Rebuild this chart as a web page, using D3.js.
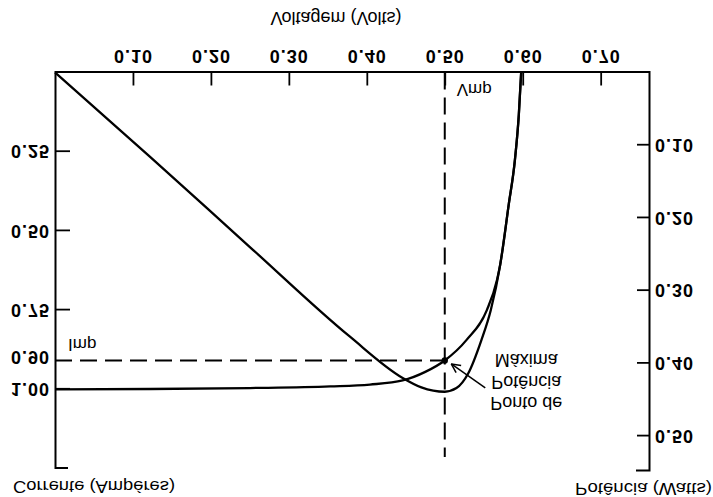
<!DOCTYPE html>
<html><head><meta charset="utf-8">
<script src="https://cdn.jsdelivr.net/npm/d3@7"></script>
<style>
html,body{margin:0;padding:0;background:#fff;}
svg{display:block;}
text{font-family:"Liberation Sans",Arial,Helvetica,sans-serif;fill:#000;}
</style>
</head><body>
<svg id="chart" width="713" height="497"></svg>
<script>
// ---- data ----
const voltageTicks = [0.1, 0.2, 0.3, 0.4, 0.5, 0.6, 0.7];
const voltageTickLabels = ["0.10", "0.20", "0.30", "0.40", "0.50", "0.60", "0.70"];
const currentTicks = [0.25, 0.5, 0.75, 0.9, 1.0];
const currentTickLabels = ["0.25", "0.50", "0.75", "0.90", "1.00"];
const powerTicks = [0.1, 0.2, 0.3, 0.4, 0.5];
const powerTickLabels = ["0.10", "0.20", "0.30", "0.40", "0.50"];

// I-V curve (Volts, Amperes)
const ivVoltage = [0, 0.122, 0.250, 0.353, 0.404, 0.446, 0.475, 0.500, 0.528, 0.554, 0.567, 0.571, 0.582, 0.590, 0.595, 0.598];
const ivCurrent = [1.000, 0.999, 0.996, 0.991, 0.985, 0.972, 0.945, 0.909, 0.844, 0.750, 0.655, 0.608, 0.418, 0.276, 0.134, 0.0];

// P-V curve (Volts, Watts)
const pvVoltage = [0, 0.122, 0.250, 0.378, 0.446, 0.470, 0.500, 0.515, 0.530, 0.547, 0.559, 0.571, 0.582, 0.590, 0.595, 0.598];
const pvPower = [0, 0.116, 0.240, 0.363, 0.420, 0.433, 0.439, 0.434, 0.414, 0.368, 0.327, 0.265, 0.182, 0.120, 0.058, 0.0];

const vmp = 0.50;      // Vmp
const imp = 0.909;     // Imp
const vmpLineEnd = 1.214; // current where the Vmp guide ends

const titleX = "Voltagem (Volts)";
const titleI = "Corrente (Ampéres)";
const titleP = "Potência (Watts)";
const noteLines = ["Ponto de", "Potência", "Máxima"];

// ---- drawing (drawn upright, then the whole picture is flipped vertically) ----
const W = 713, H = 497;
const svg = d3.select("#chart");
const root = svg.append("g").attr("transform", `translate(0,${H}) scale(1,-1)`);

const x = d3.scaleLinear().domain([0, 0.762]).range([55, 649]);
const yI = d3.scaleLinear().domain([0, 1.25]).range([H - 72.5, H - 468.5]);
const yP = d3.scaleLinear().domain([0, 0.548]).range([H - 72.5, H - 471]);

function styleAxis(g) {
  g.select(".domain").attr("stroke", "#000").attr("stroke-width", 2);
  g.selectAll(".tick line").attr("stroke", "#000").attr("stroke-width", 1.8);
  g.selectAll(".tick text").attr("font-size", 18).attr("font-weight", "bold")
    .attr("letter-spacing", 1).attr("fill", "#000")
    .attr("font-family", '"Liberation Sans",Arial,sans-serif');
}

// voltage axis
const gx = root.append("g").attr("transform", `translate(0,${yI(0)})`)
  .call(d3.axisBottom(x).tickValues(voltageTicks)
    .tickFormat((d, i) => voltageTickLabels[i])
    .tickSizeInner(-13).tickSizeOuter(0).tickPadding(10));
styleAxis(gx);

// current axis
const gi = root.append("g").attr("transform", `translate(${x(0)},0)`)
  .call(d3.axisLeft(yI).tickValues(currentTicks)
    .tickFormat((d, i) => currentTickLabels[i])
    .tickSizeInner(-15).tickSizeOuter(-13).tickPadding(5));
styleAxis(gi);
gi.selectAll(".tick").filter(d => d === 0.9).select("line").remove();

// power axis
const gp = root.append("g").attr("transform", `translate(${x.range()[1]},0)`)
  .call(d3.axisRight(yP).tickValues(powerTicks)
    .tickFormat((d, i) => powerTickLabels[i])
    .tickSizeInner(-12).tickSizeOuter(-13).tickPadding(6));
styleAxis(gp);

// guide lines
root.append("line")
  .attr("x1", x(0)).attr("x2", x(vmp)).attr("y1", yI(imp)).attr("y2", yI(imp))
  .attr("stroke", "#000").attr("stroke-width", 2).attr("stroke-dasharray", "17,8");
root.append("line")
  .attr("x1", x(vmp)).attr("x2", x(vmp)).attr("y1", yI(0)).attr("y2", yI(vmpLineEnd))
  .attr("stroke", "#000").attr("stroke-width", 2).attr("stroke-dasharray", "17,8");

// curves
const ivData = ivVoltage.map((v, i) => [v, ivCurrent[i]]);
const pvData = pvVoltage.map((v, i) => [v, pvPower[i]]);
root.append("path").datum(ivData)
  .attr("d", d3.line().x(d => x(d[0])).y(d => yI(d[1])).curve(d3.curveMonotoneX))
  .attr("fill", "none").attr("stroke", "#000").attr("stroke-width", 2.3);
root.append("path").datum(pvData)
  .attr("d", d3.line().x(d => x(d[0])).y(d => yP(d[1])).curve(d3.curveMonotoneX))
  .attr("fill", "none").attr("stroke", "#000").attr("stroke-width", 2.3);

// max power point
root.append("circle").attr("cx", x(vmp)).attr("cy", yI(imp)).attr("r", 3.2).attr("fill", "#000");

// labels Imp / Vmp
root.append("text").attr("x", x(0) + 13).attr("y", yI(imp) + 16)
  .attr("dominant-baseline", "central").attr("font-size", 17).text("Imp");
root.append("text").attr("x", x(vmp) + 12).attr("y", yI(0) - 17)
  .attr("dominant-baseline", "central").attr("font-size", 17).text("Vmp");

// annotation
const px = x(vmp), py = yI(imp);
noteLines.forEach((t, i) => {
  root.append("text").attr("x", px + 81.5).attr("y", py - 43 + 21.5 * i)
    .attr("dominant-baseline", "central").attr("text-anchor", "middle")
    .attr("font-size", 18).text(t);
});
const ax0 = px + 40.5, ay0 = py - 27.5, ax1 = px + 6.5, ay1 = py - 3.5;
root.append("line").attr("x1", ax0).attr("y1", ay0).attr("x2", ax1).attr("y2", ay1)
  .attr("stroke", "#000").attr("stroke-width", 1.5);
const ang = Math.atan2(ay0 - ay1, ax0 - ax1);
[-0.45, 0.45].forEach(da => {
  root.append("line").attr("x1", ax1).attr("y1", ay1)
    .attr("x2", ax1 + 10 * Math.cos(ang + da)).attr("y2", ay1 + 10 * Math.sin(ang + da))
    .attr("stroke", "#000").attr("stroke-width", 1.5);
});

// axis titles
root.append("text").attr("x", 336).attr("y", H - 18).attr("text-anchor", "middle")
  .attr("dominant-baseline", "central").attr("font-size", 18).text(titleX);
root.append("text").attr("x", 13).attr("y", H - 486)
  .attr("dominant-baseline", "central").attr("font-size", 17)
  .attr("textLength", 162).attr("lengthAdjust", "spacingAndGlyphs").text(titleI);
root.append("text").attr("x", 575).attr("y", H - 488)
  .attr("dominant-baseline", "central").attr("font-size", 17)
  .attr("textLength", 137).attr("lengthAdjust", "spacingAndGlyphs").text(titleP);
</script>
</body></html>
